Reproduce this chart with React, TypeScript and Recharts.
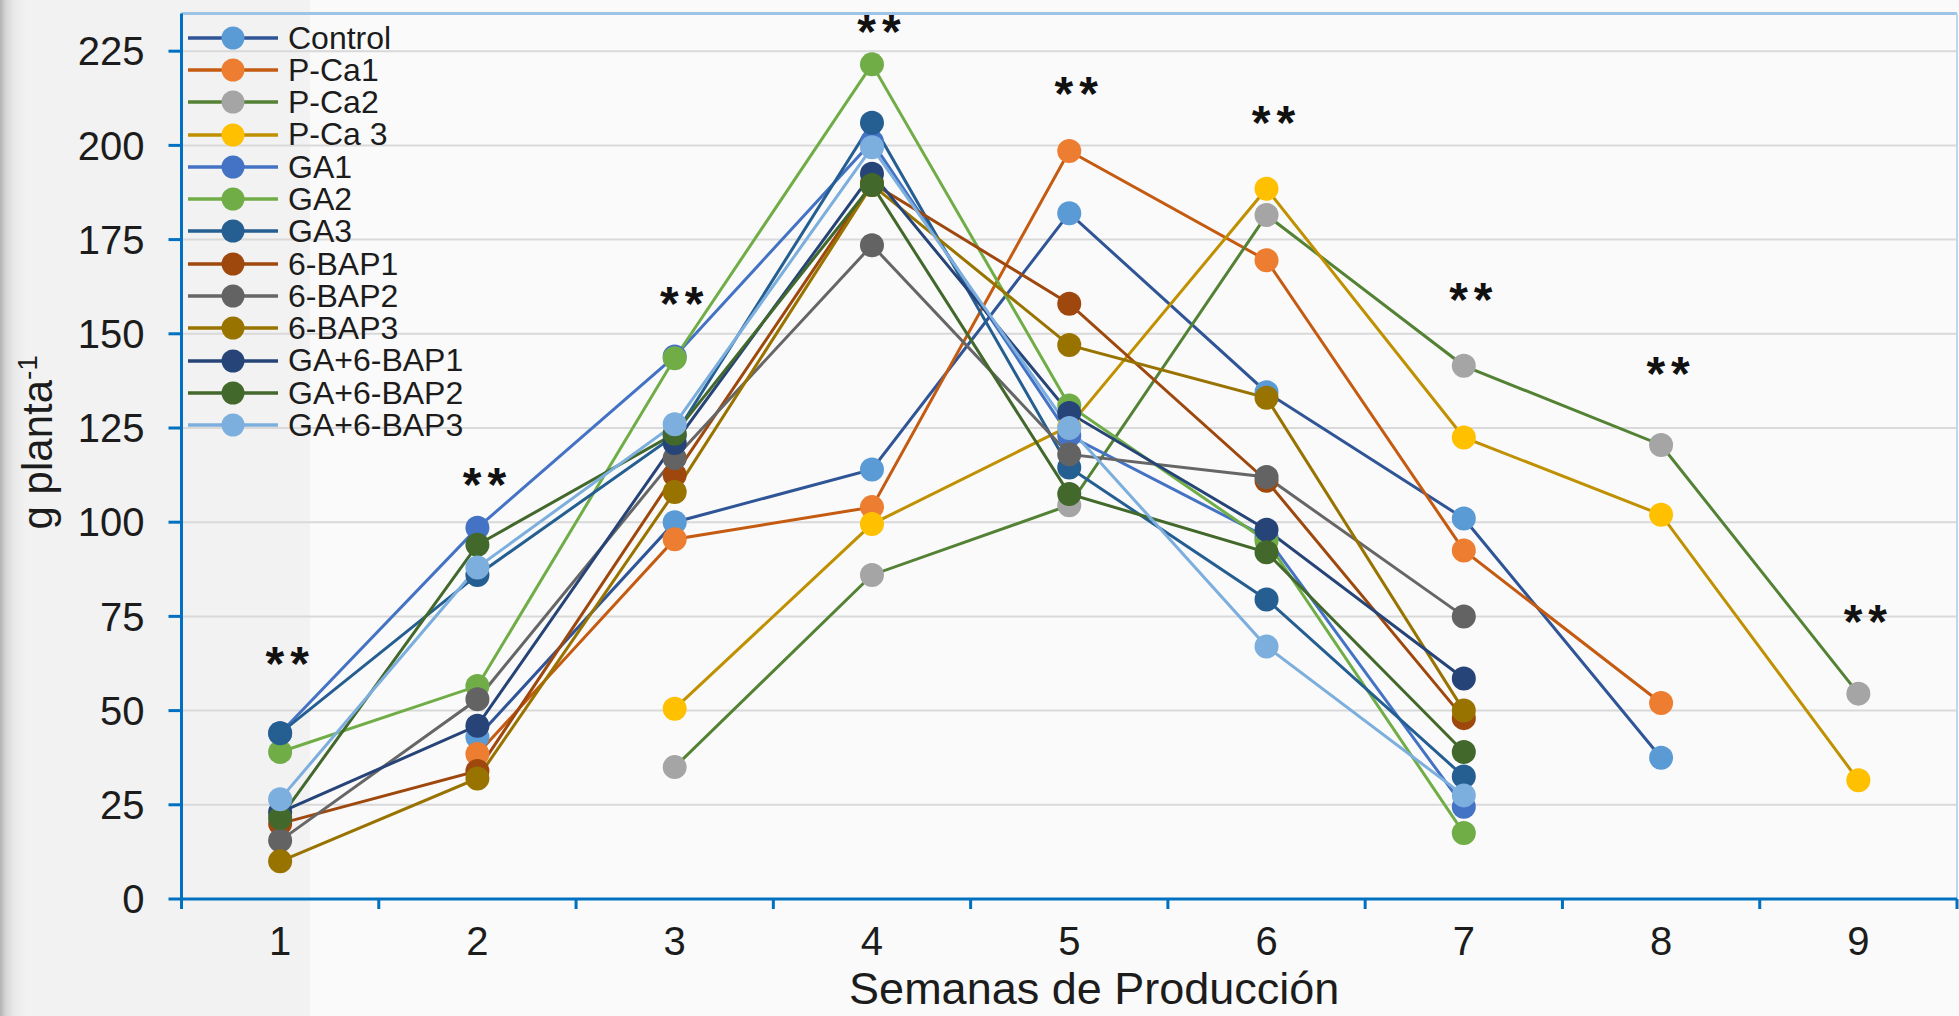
import React from 'react';
import { LineChart, Line, XAxis, YAxis, CartesianGrid, Legend, ReferenceLine, Label } from 'recharts';

// ---------- data ----------
const weeks = [1, 2, 3, 4, 5, 6, 7, 8, 9];
const xTickLabels = ['1', '2', '3', '4', '5', '6', '7', '8', '9'];
const yTicks = [0, 25, 50, 75, 100, 125, 150, 175, 200, 225];

const seriesNames = ['Control', 'P-Ca1', 'P-Ca2', 'P-Ca 3', 'GA1', 'GA2', 'GA3', '6-BAP1', '6-BAP2', '6-BAP3', 'GA+6-BAP1', 'GA+6-BAP2', 'GA+6-BAP3'];

const control = [null, 43, 100, 114, 182, 134.5, 101, 37.5, null];
const pCa1 = [null, 38.5, 95.5, 104, 198.5, 169.5, 92.5, 52, null];
const pCa2 = [null, null, 35, 86, 104.5, 181.5, 141.5, 120.5, 54.5];
const pCa3 = [null, null, 50.5, 99.5, 125.5, 188.5, 122.5, 102, 31.5];
const ga1 = [44, 98.5, 144, 201, 123, 96, 24.5, null, null];
const ga2 = [39, 56.5, 143.5, 221.5, 131, 95, 17.5, null, null];
const ga3 = [44, 86, 123, 206, 114.5, 79.5, 32.5, null, null];
const bap1 = [20, 34, 112.5, 190, 158, 111, 48, null, null];
const bap2 = [15.5, 53, 117, 173.5, 118, 112, 75, null, null];
const bap3 = [10, 32, 108, 189.5, 147, 133, 50, null, null];
const gaBap1 = [23, 46, 121, 192.5, 129, 98, 58.5, null, null];
const gaBap2 = [21.5, 94, 123.5, 189.5, 107.5, 92, 39, null, null];
const gaBap3 = [26.5, 88, 126, 199.5, 125, 67, 27.5, null, null];

// level of the "**" significance marks per week
const sigLevels = [64, 111.5, 159.5, 231.7, 215.2, 207.5, 160.5, 141, 75.2];

const seriesValues = [control, pCa1, pCa2, pCa3, ga1, ga2, ga3, bap1, bap2, bap3, gaBap1, gaBap2, gaBap3];
const lineColors = ['#2F5597', '#C55A11', '#548235', '#BF9000', '#4472C4', '#70AD47', '#255E91', '#9E480E', '#666666', '#997300', '#264478', '#43682B', '#7CAFDD'];
const markerColors = ['#5B9BD5', '#ED7D31', '#A5A5A5', '#FFC000', '#4472C4', '#70AD47', '#255E91', '#9E480E', '#636363', '#997300', '#264478', '#43682B', '#7CAFDD'];

// ---------- derived ----------
const series = seriesNames.map((name, i) => ({
  key: `s${i}`,
  name,
  values: seriesValues[i],
  line: lineColors[i],
  marker: markerColors[i],
}));

const data = weeks.map((w, i) => {
  const row: Record<string, number | null> = { week: w, sig: sigLevels[i] };
  series.forEach((s) => {
    row[s.key] = s.values[i];
  });
  return row;
});

const xTicks: number[] = [];
weeks.forEach((w) => {
  xTicks.push(w - 0.5);
  xTicks.push(w);
});
xTicks.push(weeks[weeks.length - 1] + 0.5);

const FONT = "'Liberation Sans', Arial, sans-serif";
const TEXT = '#1c1c1c';
const AXIS = '#0070C0';

const XTick = (props: any) => {
  const { x, y, payload } = props;
  const v = payload.value;
  if (Number.isInteger(v)) {
    return (
      <text x={x} y={y + 56} textAnchor="middle" fontSize={40} fontFamily={FONT} fill={TEXT}>
        {xTickLabels[v - 1]}
      </text>
    );
  }
  return <line x1={x} x2={x} y1={y} y2={y + 10} stroke={AXIS} strokeWidth={3} />;
};

const XTitle = (props: any) => {
  const vb = props.viewBox;
  return (
    <text x={vb.x + vb.width / 2 + 25} y={vb.y + 105} textAnchor="middle" fontSize={45} fontFamily={FONT} fill={TEXT}>
      Semanas de Producción
    </text>
  );
};

const YTitle = (props: any) => {
  const vb = props.viewBox;
  const cx = vb.x + 52;
  const cy = vb.y + vb.height / 2 - 14;
  return (
    <text transform={`rotate(-90 ${cx} ${cy})`} x={cx} y={cy} textAnchor="middle" fontSize={42} fontFamily={FONT} fill={TEXT}>
      g planta
      <tspan fontSize={28} dy={-15}>-1</tspan>
    </text>
  );
};

const SigMark = (props: any) => {
  const { cx, cy, index } = props;
  if (cx == null || cy == null) return <g key={`sig-${index}`} />;
  return (
    <text
      key={`sig-${index}`}
      x={cx + 10}
      y={cy + 22}
      textAnchor="middle"
      fontSize={48}
      fontWeight={700}
      letterSpacing={6}
      fontFamily={FONT}
      fill="#111"
    >
      **
    </text>
  );
};

const LegendContent = () => (
  <div style={{ fontFamily: FONT, fontSize: 32, color: TEXT, lineHeight: '32.3px' }}>
    {series.map((s) => (
      <div key={s.key} style={{ display: 'flex', alignItems: 'center', height: 32.3 }}>
        <svg width={100} height={32} style={{ display: 'block', flex: 'none' }}>
          <line x1={0} x2={90} y1={16} y2={16} stroke={s.line} strokeWidth={3.5} />
          <circle cx={45} cy={16} r={11.5} fill={s.marker} />
        </svg>
        <span style={{ whiteSpace: 'nowrap' }}>{s.name}</span>
      </div>
    ))}
  </div>
);

export default function App() {
  return (
    <div
      style={{
        position: 'absolute',
        left: 0,
        top: 0,
        width: 1959,
        height: 1016,
        overflow: 'hidden',
        background:
          'linear-gradient(to right, #b2b2b2 0px, #d6d6d6 6px, #e9e9e9 14px, #f2f2f2 26px, #f2f2f2 310px, #fafafa 310px, #fafafa 100%)',
      }}
    >
      <LineChart width={1959} height={1016} data={data} margin={{ top: 13.5, right: 2, left: 0, bottom: 0 }}>
        <CartesianGrid vertical={false} stroke="#d9d9d9" strokeWidth={2} />
        <XAxis
          dataKey="week"
          type="number"
          domain={[0.5, 9.5]}
          ticks={xTicks}
          interval={0}
          tick={<XTick />}
          tickLine={false}
          tickSize={0}
          tickMargin={0}
          axisLine={{ stroke: AXIS, strokeWidth: 3 }}
          height={117}
        >
          <Label content={<XTitle />} />
        </XAxis>
        <YAxis
          type="number"
          domain={[0, 235]}
          ticks={yTicks}
          interval={0}
          width={181.5}
          tickSize={13}
          tickMargin={24}
          tick={{ fontSize: 40, fill: TEXT, fontFamily: FONT }}
          tickLine={{ stroke: AXIS, strokeWidth: 3 }}
          axisLine={{ stroke: AXIS, strokeWidth: 3 }}
          allowDataOverflow
        >
          <Label content={<YTitle />} />
        </YAxis>
        <ReferenceLine y={235} stroke="#9DC3E6" strokeWidth={3} />
        <ReferenceLine x={9.5} stroke="#BDD7EE" strokeWidth={2} />
        <Legend
          layout="vertical"
          align="center"
          verticalAlign="middle"
          content={<LegendContent />}
          wrapperStyle={{ left: 188, top: 21.5, width: 'auto', height: 'auto' }}
        />
        {series.map((s) => (
          <Line
            key={s.key}
            type="linear"
            dataKey={s.key}
            name={s.name}
            stroke={s.line}
            strokeWidth={3}
            dot={{ r: 12, fill: s.marker, stroke: s.marker, strokeWidth: 0 }}
            activeDot={false}
            isAnimationActive={false}
          />
        ))}
        <Line
          type="linear"
          dataKey="sig"
          stroke="none"
          dot={(p: any) => <SigMark key={`sig-${p.index}`} {...p} />}
          activeDot={false}
          legendType="none"
          isAnimationActive={false}
        />
      </LineChart>
    </div>
  );
}
